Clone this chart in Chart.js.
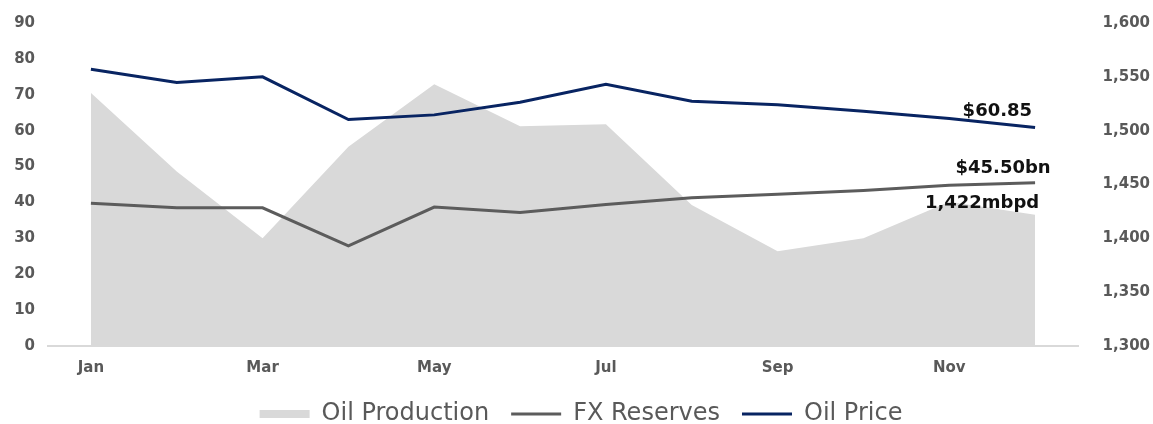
<!DOCTYPE html>
<html><head><meta charset="utf-8">
<script src="https://cdn.jsdelivr.net/npm/chart.js@4.4.1/dist/chart.umd.min.js"></script>
<style>html,body{margin:0;padding:0;background:#fff;} #wrap{width:1153px;height:424px;position:relative;}</style>
</head><body><div id="wrap"><canvas id="c"></canvas></div>
<script>
const months = ['Jan','Feb','Mar','Apr','May','Jun','Jul','Aug','Sep','Oct','Nov','Dec'];
const oilProduction = [1535,1462,1400,1485,1543,1504,1506,1431,1388,1400,1434,1422];
const fxReserves = [39.8,38.5,38.5,27.9,38.7,37.2,39.4,41.3,42.3,43.3,44.8,45.5];
const oilPrice = [77.1,73.4,75.0,63.1,64.4,67.9,72.9,68.2,67.2,65.4,63.4,60.85];
const leftAxis = {min:0, max:90, step:10};
const rightAxis = {min:1300, max:1600, step:50};

const GRAY = '#595959';
const endLabels = {
  id:'endLabels',
  afterDatasetsDraw(chart){
    const {ctx, scales:{x,y,y2}} = chart;
    const i = months.length-1;
    const px = x.getPixelForValue(i);
    ctx.save();
    ctx.font = 'bold 18px "DejaVu Sans"';
    ctx.fillStyle = '#111';
    ctx.textBaseline = 'alphabetic';
    ctx.textAlign = 'right';
    ctx.fillText('$' + oilPrice[i].toFixed(2), px - 3, y.getPixelForValue(oilPrice[i]) - 12);
    ctx.textAlign = 'center';
    ctx.fillText('$' + fxReserves[i].toFixed(2) + 'bn', px - 32, y.getPixelForValue(fxReserves[i]) - 10);
    ctx.fillText(oilProduction[i].toLocaleString('en-US') + 'mbpd', px - 53, y2.getPixelForValue(oilProduction[i]) - 7);
    ctx.restore();
  }
};

new Chart(document.getElementById('c'), {
  type: 'line',
  data: {
    labels: months,
    datasets: [
      {label:'Oil Production', data: oilProduction, yAxisID:'y2', fill:'start', backgroundColor:'#d9d9d9', borderColor:'#d9d9d9', borderWidth:0, pointRadius:0, order:10},
      {label:'FX Reserves', data: fxReserves, yAxisID:'y', fill:false, borderColor:'#5c5c5c', backgroundColor:'#5c5c5c', borderWidth:3, pointRadius:0, order:1},
      {label:'Oil Price', data: oilPrice, yAxisID:'y', fill:false, borderColor:'#082462', backgroundColor:'#082462', borderWidth:3, pointRadius:0, order:0}
    ]
  },
  options: {
    responsive:true, maintainAspectRatio:false, animation:false, devicePixelRatio:1,
    layout:{padding:{top:23, left:12, right:3, bottom:-12}},
    plugins:{
      tooltip:{enabled:false},
      legend:{
        position:'bottom',
        labels:{
          usePointStyle:true, pointStyleWidth:50, boxHeight:8,
          font:{family:'"DejaVu Sans"', size:24}, color:GRAY, padding:22,
          generateLabels(chart){
            return chart.data.datasets.map((d,i)=>({
              text:d.label, datasetIndex:i,
              fillStyle:d.backgroundColor, strokeStyle:d.borderColor,
              lineWidth: i===0 ? 0 : 3,
              pointStyle: i===0 ? 'rect' : 'line',
              fontColor:GRAY, hidden:false
            }));
          }
        }
      }
    },
    scales:{
      x:{
        offset:true,
        grid:{display:false, drawTicks:false},
        border:{display:true, color:'#d9d9d9', width:2},
        ticks:{autoSkip:false, maxRotation:0, padding:13, color:GRAY,
          font:{family:'"DejaVu Sans"', size:15, weight:'bold'},
          callback:(v,i)=> i%2===0 ? months[i] : ''},
        afterFit(s){ s.height = 34; }
      },
      y:{
        position:'left', min:leftAxis.min, max:leftAxis.max,
        grid:{display:false, drawTicks:false}, border:{display:false},
        ticks:{stepSize:leftAxis.step, padding:13, color:GRAY,
          font:{family:'"DejaVu Sans"', size:15, weight:'bold'}},
        afterFit(s){ s.width = 36; }
      },
      y2:{
        position:'right', min:rightAxis.min, max:rightAxis.max,
        grid:{display:false, drawTicks:false}, border:{display:false},
        ticks:{stepSize:rightAxis.step, padding:0, crossAlign:'far', color:GRAY,
          font:{family:'"DejaVu Sans"', size:15, weight:'bold'},
          callback:v=> v.toLocaleString('en-US')},
        afterFit(s){ s.width = 72; }
      }
    }
  },
  plugins:[endLabels]
});
</script></body></html>
